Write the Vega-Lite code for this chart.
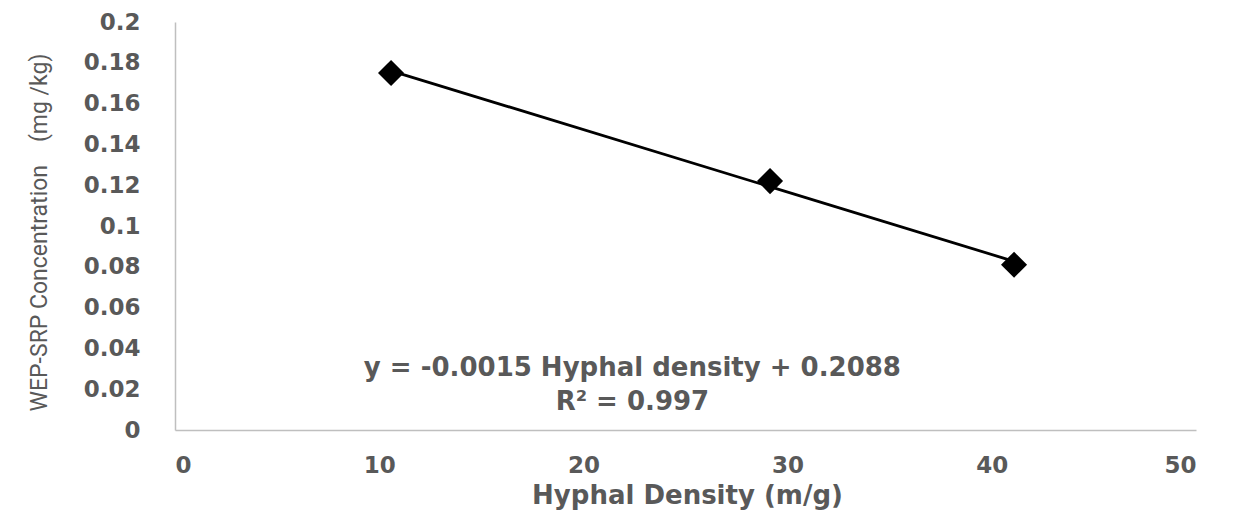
{
  "$schema": "https://vega.github.io/schema/vega-lite/v6.json",
  "width": 1021,
  "height": 408,
  "autosize": "none",
  "padding": {"left": 175, "top": 22, "right": 41, "bottom": 92},
  "background": "white",
  "config": {"view": {"stroke": null}},
  "datasets": {
    "pts": [
      {"density": 10.58, "wep": 0.175},
      {"density": 29.14, "wep": 0.122},
      {"density": 41.09, "wep": 0.081}
    ],
    "labels": [
      {"density": 22.4, "wep": 0.0305, "text": "y = -0.0015 Hyphal density + 0.2088"},
      {"density": 22.4, "wep": 0.0135, "text": "R² = 0.997"}
    ]
  },
  "layer": [
    {
      "data": {"name": "pts"},
      "transform": [{"regression": "wep", "on": "density"}],
      "mark": {"type": "line", "color": "black", "strokeWidth": 2.8},
      "encoding": {
        "x": {"field": "density", "type": "quantitative"},
        "y": {"field": "wep", "type": "quantitative"}
      }
    },
    {
      "data": {"name": "pts"},
      "mark": {"type": "point", "shape": "diamond", "filled": true, "color": "black", "opacity": 1, "size": 680},
      "encoding": {
        "x": {
          "field": "density", "type": "quantitative",
          "scale": {"domain": [0, 50], "nice": false},
          "axis": {
            "title": "Hyphal Density (m/g)",
            "values": [0, 10, 20, 30, 40, 50],
            "grid": false, "ticks": false,
            "domainColor": "#bfbfbf", "domainWidth": 1.5,
            "labelFont": "DejaVu Sans", "labelFontSize": 23, "labelFontWeight": "bold", "labelColor": "#595959",
            "labelPadding": 24,
            "titleFont": "DejaVu Sans", "titleFontSize": 26, "titleFontWeight": "bold", "titleColor": "#595959",
            "titleBaseline": "middle", "titleY": 65, "titleX": 512
          }
        },
        "y": {
          "field": "wep", "type": "quantitative",
          "scale": {"domain": [0, 0.2], "nice": false},
          "axis": {
            "title": "WEP-SRP Concentration\u00a0\u00a0\u00a0 (mg /kg)",
            "values": [0, 0.02, 0.04, 0.06, 0.08, 0.1, 0.12, 0.14, 0.16, 0.18, 0.2],
            "format": "~g",
            "grid": false, "ticks": false,
            "domainColor": "#bfbfbf", "domainWidth": 1.5,
            "labelFont": "DejaVu Sans", "labelFontSize": 23, "labelFontWeight": "bold", "labelColor": "#595959",
            "labelPadding": 35,
            "titleFont": "Roboto", "titleFontSize": 23, "titleFontWeight": "normal", "titleColor": "#595959",
            "titleBaseline": "middle", "titleAngle": 270, "titleX": -136, "titleY": 210
          }
        }
      }
    },
    {
      "data": {"name": "labels"},
      "mark": {"type": "text", "font": "DejaVu Sans", "fontSize": 26, "fontWeight": "bold", "color": "#595959", "align": "center", "baseline": "middle"},
      "encoding": {
        "x": {"field": "density", "type": "quantitative"},
        "y": {"field": "wep", "type": "quantitative"},
        "text": {"field": "text"}
      }
    }
  ]
}
